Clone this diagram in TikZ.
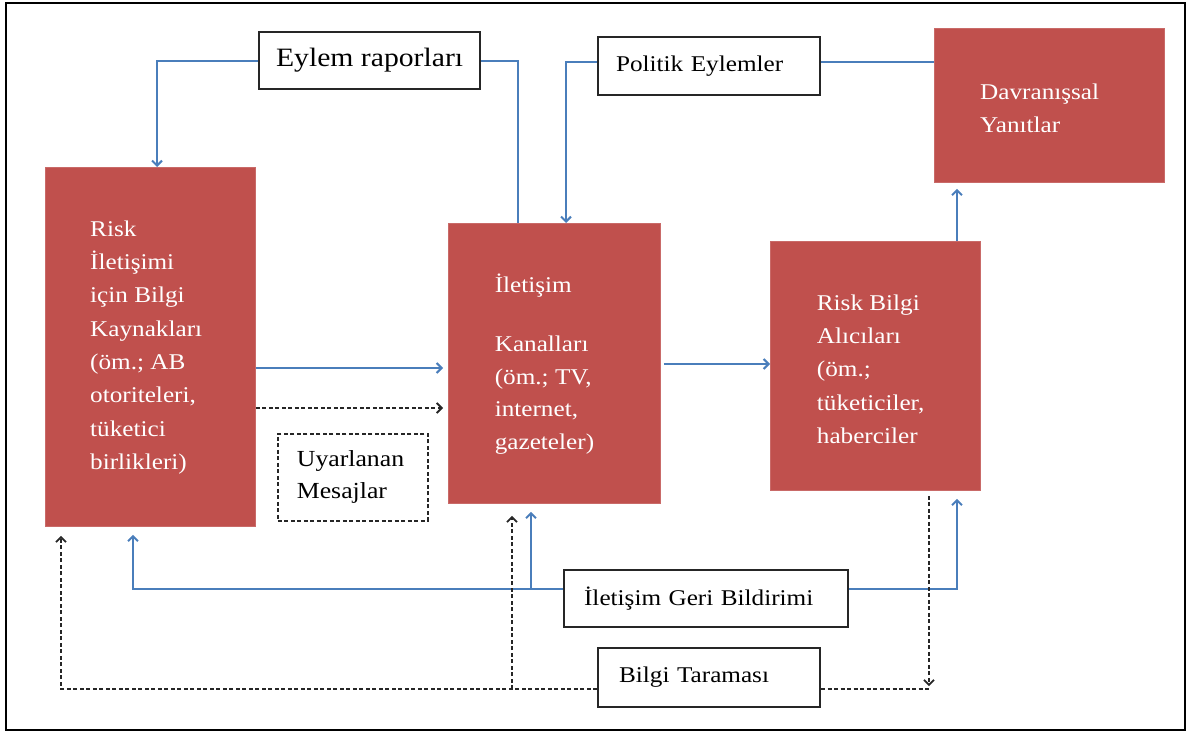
\documentclass[tikz,border=0pt]{standalone}
\usepackage{fontspec}
\setmainfont[FakeStretch=1.12]{Liberation Serif}
\usetikzlibrary{arrows.meta,calc}
\definecolor{boxred}{HTML}{C0504D}
\definecolor{lineblue}{HTML}{4A7EBB}
\begin{document}
\begin{tikzpicture}[x=1pt,y=-1pt,
 redbox/.style={fill=boxred, draw=boxred!85!white, line width=0.8pt, inner sep=0pt, anchor=north west},
 rtext/.style={text=white, font=\fontsize{22.5}{33.3}\selectfont, align=left, inner sep=0pt, anchor=north west},
 wbox/.style={draw=black!85, line width=2.2pt, fill=white, align=left, inner ysep=0pt, anchor=north west, font=\fontsize{22.5}{27}\selectfont},
 bl/.style={draw=lineblue, line width=2pt},
 blarr/.style={bl, -{Straight Barb[length=5pt,width=10pt]}},
 dsh/.style={draw=black!85, line width=1.8pt, dash pattern=on 4pt off 2.5pt},
 dsharr/.style={dsh, -{Straight Barb[length=5pt,width=10pt]}},
]
\useasboundingbox (0,0) rectangle (1188,733);
\node[draw=black, line width=2.2pt, minimum width=1179pt, minimum height=727pt, anchor=north west, inner sep=0pt] (frame) at (5,2) {};

% red boxes
\node[redbox, minimum width=210pt, minimum height=359pt] (src) at (45,167) {};
\node[redbox, minimum width=212pt, minimum height=280pt] (chan) at (448,223) {};
\node[redbox, minimum width=210pt, minimum height=249pt] (rcv) at (770,241) {};
\node[redbox, minimum width=230pt, minimum height=154pt] (beh) at (934,28) {};

\node[rtext] (srct) at (90,212.7) {\strut Risk\\İletişimi\\için Bilgi\\Kaynakları\\(öm.; AB\\otoriteleri,\\tüketici\\birlikleri)};
\node[rtext, font=\fontsize{22.5}{32.7}\selectfont] (chant) at (494.6,269.7) {\strut İletişim\\[26pt]Kanalları\\(öm.; TV,\\internet,\\gazeteler)};
\node[rtext] (rcvt) at (816.7,286.7) {\strut Risk Bilgi\\Alıcıları\\(öm.;\\tüketiciler,\\haberciler};
\node[rtext] (beht) at (980,75.7) {\strut Davranışsal\\Yanıtlar};

% white boxes
\node[wbox, minimum width=221pt, inner xsep=0pt, minimum height=57pt, font=\fontsize{26.5}{30}\selectfont] (eyl) at (258,31) {Eylem raporları};
\node[wbox, text width=186pt, inner xsep=18pt, minimum height=58pt] (pol) at (597,36) {Politik~Eylemler};
\node[wbox, text width=244pt, inner xsep=20pt, minimum height=57pt] (geri) at (563,569) {İletişim~Geri~Bildirimi};
\node[wbox, text width=180pt, inner xsep=21pt, minimum height=59pt] (bilgi) at (597,647) {Bilgi~Taraması};
\node[wbox, text width=112pt, inner xsep=19pt, minimum height=87pt, line width=1.8pt, dash pattern=on 4pt off 2.5pt, font=\fontsize{23}{32}\selectfont] (uyar) at (277,433) {Uyarlanan\\Mesajlar};

% top connectors
\draw[blarr] (eyl.west) -| ($(src.north west)+(112,0)$);
\draw[bl] (eyl.east) -| ($(chan.north west)+(70,0)$);
\draw[blarr] ([yshift=4pt]pol.west) -| ($(chan.north west)+(118,0)$);
\draw[bl] ([yshift=4pt]pol.east) -- ([yshift=4pt]pol.east -| beh.west);
\draw[blarr] ($(rcv.north west)+(187,0)$) -- ($(beh.south west)+(23,6)$);

% horizontal connectors
\draw[blarr] ($(src.north east)+(0,201)$) -- ($(chan.north west)+(-5,145)$);
\draw[dsharr] ($(src.north east)+(0,241)$) -- ($(chan.north west)+(-5,185)$);
\draw[blarr] ($(chan.north east)+(3,141)$) -- ($(rcv.north west)+(0,123)$);

% bottom connectors
\coordinate (gw) at ([yshift=10pt]geri.west);
\coordinate (ge) at ([yshift=10pt]geri.east);
\coordinate (bw) at ([yshift=-11.5pt]bilgi.west);
\coordinate (be) at ([yshift=-11.5pt]bilgi.east);
\coordinate (srcB1) at ($(src.south west)+(16,9)$);
\coordinate (srcB2) at ($(src.south west)+(88,8)$);
\coordinate (chB1) at ($(chan.south west)+(64,12)$);
\coordinate (chB2) at ($(chan.south west)+(83,8)$);
\coordinate (rcB1) at ($(rcv.south west)+(159,5)$);
\coordinate (rcB2) at ($(rcv.south west)+(187,8)$);

\draw[blarr] (gw) -| (srcB2);
\draw[blarr] (chB2 |- gw) -- (chB2);
\draw[blarr] (ge) -| (rcB2);
\draw[dsharr] (bw) -| (srcB1);
\draw[dsharr] (chB1 |- bw) -- (chB1);
\draw[dsh] (be) -- (rcB1 |- be);
\draw[dsharr] (rcB1) -- ($(rcB1 |- be)+(0,-3)$);
\end{tikzpicture}
\end{document}
